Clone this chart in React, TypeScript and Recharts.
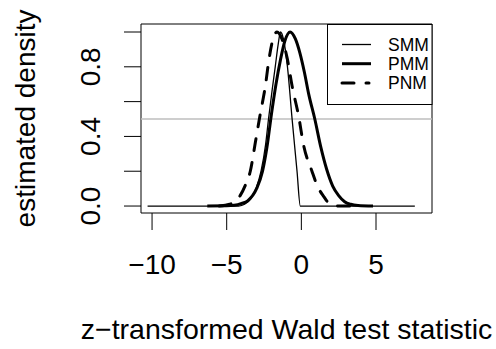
import { LineChart, Line, XAxis, YAxis, ReferenceLine, ReferenceArea, Legend } from 'recharts'

// estimated densities (scaled so the peak is 1)
const smmX = [-10.3, -4.2, -3.8, -3.4, -3.0, -2.7, -2.4, -2.2, -1.95, -1.75, -1.55, -1.4, -1.2, -0.93, -0.62, -0.29, -0.07, 7.6]
const smmY = [0, 0, 0.01, 0.04, 0.11, 0.2, 0.35, 0.5, 0.67, 0.8, 0.93, 1.0, 0.96, 0.8, 0.5, 0.2, 0, 0]

const pmmX = [-6.3, -5.0, -4.5, -4.0, -3.6, -3.0, -2.6, -2.3, -2.0, -1.7, -1.4, -1.1, -0.75, -0.4, -0.1, 0.2, 0.5, 0.9, 1.3, 1.7, 2.1, 2.5, 2.9, 3.3, 3.8, 4.8]
const pmmY = [0, 0.001, 0.004, 0.015, 0.03, 0.1, 0.2, 0.34, 0.53, 0.7, 0.84, 0.95, 1.0, 0.96, 0.88, 0.77, 0.64, 0.5, 0.34, 0.21, 0.115, 0.06, 0.025, 0.01, 0.003, 0]

const pnmX = [-5.5, -4.8, -4.1, -3.75, -3.42, -3.08, -2.75, -2.41, -2.19, -1.9, -1.63, -1.3, -0.95, -0.62, -0.18, 0.15, 0.71, 1.1, 1.49, 1.94, 2.6, 3.5]
const pnmY = [0, 0.01, 0.06, 0.12, 0.2, 0.366, 0.53, 0.69, 0.83, 0.96, 1.0, 0.96, 0.85, 0.69, 0.515, 0.35, 0.2, 0.11, 0.056, 0.01, 0, 0]

const xTicks = [-10, -5, 0, 5]
const yTicks = [0, 0.2, 0.4, 0.6, 0.8, 1.0]
const yLabelled = [0, 0.4, 0.8]

const seriesNames = ['SMM', 'PMM', 'PNM']

const toRows = (xs: number[], ys: number[]) => xs.map((x, i) => ({ x, y: ys[i] }))

const font = '"Liberation Sans", Arial, Helvetica, sans-serif'

const fmtX = (v: number) => (v < 0 ? '\u2212' + Math.abs(v) : String(v))

function XTick(props: any) {
  const { x, y, payload } = props
  return (
    <text x={x} y={y + 44} textAnchor="middle" fontSize={28} fontFamily={font} fill="#000">
      {fmtX(payload.value)}
    </text>
  )
}

function YTick(props: any) {
  const { x, y, payload } = props
  const v = payload.value
  if (!yLabelled.some((t) => Math.abs(t - v) < 1e-6)) return <g />
  const tx = x - 24
  return (
    <text x={tx} y={y} transform={`rotate(-90, ${tx}, ${y})`} textAnchor="middle" fontSize={28} fontFamily={font} fill="#000">
      {v.toFixed(1)}
    </text>
  )
}

function LegendBox() {
  const rows = [
    { w: 1.3, dash: undefined as string | undefined },
    { w: 3, dash: undefined },
    { w: 3, dash: '12 12' },
  ]
  return (
    <svg width={106} height={81} style={{ display: 'block' }}>
      <rect x={0.5} y={0.5} width={104.5} height={80} fill="#fff" stroke="#000" strokeWidth={1} />
      {rows.map((r, i) => (
        <g key={i}>
          <line x1={15} x2={i === 2 ? 42 : 44} y1={20.5 + i * 19.2} y2={20.5 + i * 19.2} stroke="#000" strokeWidth={r.w} strokeDasharray={r.dash} strokeLinecap={r.dash ? 'round' : 'butt'} />
          <text x={61} y={27 + i * 19.2} fontSize={17.5} fontFamily={font} fill="#000">
            {seriesNames[i]}
          </text>
        </g>
      ))}
    </svg>
  )
}

export default function App() {
  return (
    <div style={{ position: 'absolute', left: 0, top: 0, width: 496, height: 349, background: '#fff' }}>
      <LineChart width={496} height={349} margin={{ top: 24, right: 64, bottom: 0, left: 0 }}>
        <XAxis
          type="number"
          dataKey="x"
          domain={[-10.74, 8.75]}
          ticks={xTicks}
          allowDataOverflow
          axisLine={false}
          tickLine={{ stroke: '#000' }}
          tickSize={17}
          tickMargin={0}
          tick={<XTick />}
          height={136}
          interval={0}
        />
        <YAxis
          type="number"
          domain={[-0.04, 1.046]}
          ticks={yTicks}
          allowDataOverflow
          axisLine={false}
          tickLine={{ stroke: '#000' }}
          tickSize={17}
          tickMargin={0}
          tick={<YTick />}
          width={141}
          interval={0}
        />
        <ReferenceLine y={0.5} stroke="#BEBEBE" strokeWidth={1.5} />
        <Line data={toRows(smmX, smmY)} dataKey="y" name="SMM" type="monotone" stroke="#000" strokeWidth={1.3} dot={false} isAnimationActive={false} />
        <Line data={toRows(pmmX, pmmY)} dataKey="y" name="PMM" type="monotone" stroke="#000" strokeWidth={3} dot={false} isAnimationActive={false} />
        <Line data={toRows(pnmX, pnmY)} dataKey="y" name="PNM" type="monotone" stroke="#000" strokeWidth={3} strokeDasharray="12 12" strokeLinecap="round" dot={false} isAnimationActive={false} />
        <ReferenceArea x1={-10.74} x2={8.75} y1={-0.04} y2={1.046} fill="none" stroke="#000" strokeWidth={1} />
        <Legend
          layout="vertical"
          align="center"
          verticalAlign="middle"
          content={() => <LegendBox />}
          wrapperStyle={{ position: 'absolute', left: 327, top: 24, width: 106, height: 81 }}
        />
        <text x={35} y={118.5} transform="rotate(-90, 35, 118.5)" textAnchor="middle" fontSize={28} fontFamily={font} fill="#000">
          estimated density
        </text>
        <text x={286.5} y={339} textAnchor="middle" fontSize={28.5} fontFamily={font} fill="#000">
          z{'\u2212'}transformed Wald test statistic
        </text>
      </LineChart>
    </div>
  )
}
